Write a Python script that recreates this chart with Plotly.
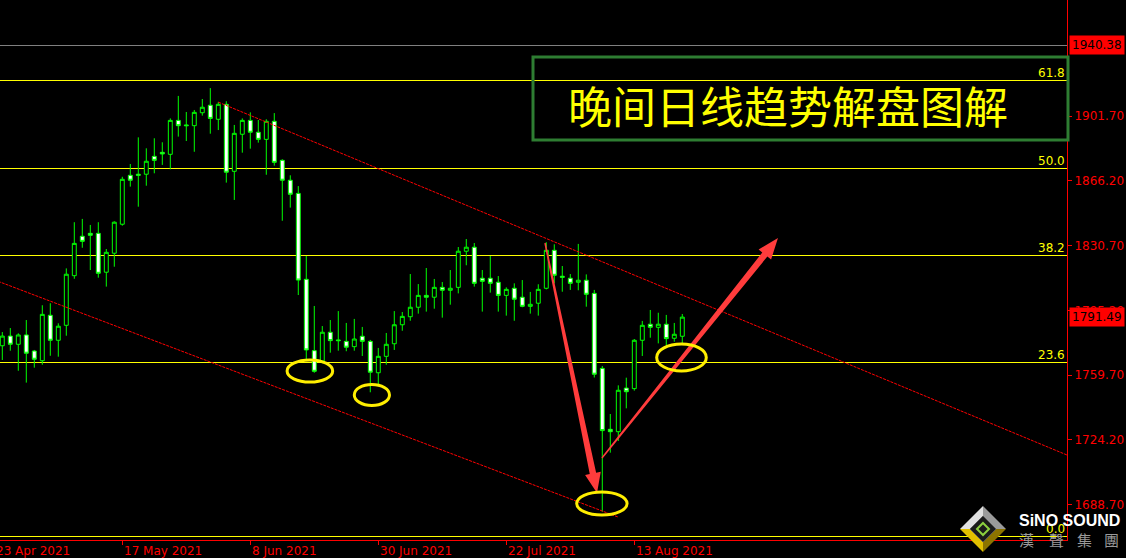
import math
import plotly.graph_objects as go

# ---------------- data (XAUUSD daily, 26 Apr 2021 .. 23 Aug 2021) ----------------
opens = [1775.8, 1781.1, 1776.6, 1781.7, 1772.9, 1767.6, 1792.5, 1778.8, 1787.0, 1814.2,
         1835.8, 1837.4, 1837.4, 1816.1, 1826.5, 1842.4, 1869.2, 1869.8, 1869.8, 1879.6,
         1881.8, 1880.7, 1899.3, 1896.8, 1896.4, 1903.5, 1907.6, 1899.9, 1908.1, 1871.4,
         1891.7, 1899.3, 1892.8, 1888.9, 1898.8, 1877.4, 1866.5, 1859.3, 1812.2, 1773.1,
         1767.4, 1783.2, 1779.0, 1778.2, 1775.3, 1781.0, 1778.2, 1761.0, 1770.0, 1776.9,
         1787.3, 1791.7, 1796.9, 1803.4, 1802.4, 1807.8, 1806.2, 1807.8, 1827.6, 1829.8,
         1812.8, 1812.8, 1810.6, 1803.4, 1807.3, 1802.4, 1797.4, 1799.1, 1807.3, 1828.1,
         1813.9, 1812.8, 1810.6, 1811.7, 1804.5, 1763.4, 1730.0, 1728.7, 1752.6, 1752.3,
         1778.8, 1787.6, 1785.9, 1787.6, 1779.9, 1781.0]
highs = [1783.3, 1785.5, 1782.6, 1789.9, 1773.5, 1798.0, 1799.1, 1788.1, 1818.2, 1843.5,
         1845.3, 1842.0, 1843.5, 1828.8, 1844.0, 1868.4, 1875.4, 1890.0, 1884.0, 1889.5,
         1887.3, 1900.4, 1912.7, 1903.9, 1905.0, 1911.0, 1917.0, 1909.4, 1909.8, 1896.8,
         1900.4, 1903.7, 1899.5, 1899.9, 1903.3, 1878.0, 1869.2, 1863.3, 1825.0, 1797.6,
         1786.6, 1789.9, 1794.8, 1788.3, 1790.5, 1786.1, 1779.0, 1774.6, 1782.8, 1794.8,
         1794.3, 1815.1, 1809.6, 1818.4, 1812.4, 1810.7, 1817.3, 1829.9, 1834.3, 1832.1,
         1817.3, 1825.0, 1814.0, 1807.8, 1810.0, 1811.8, 1805.3, 1809.5, 1832.5, 1831.4,
         1819.5, 1815.1, 1831.6, 1814.9, 1806.4, 1764.7, 1738.4, 1754.1, 1758.3, 1779.5,
         1789.4, 1795.4, 1793.9, 1792.7, 1788.3, 1793.2]
lows = [1768.0, 1773.1, 1762.1, 1755.6, 1763.8, 1765.4, 1770.3, 1769.8, 1781.3, 1812.5,
        1829.5, 1817.3, 1813.1, 1808.2, 1819.1, 1841.6, 1863.0, 1852.0, 1863.5, 1870.3,
        1874.9, 1872.5, 1890.4, 1888.0, 1882.1, 1901.9, 1892.0, 1894.0, 1865.2, 1855.7,
        1881.6, 1883.8, 1887.1, 1869.5, 1874.5, 1844.3, 1851.5, 1803.6, 1767.4, 1761.0,
        1766.2, 1772.0, 1773.1, 1772.8, 1773.1, 1770.2, 1750.3, 1753.4, 1765.4, 1773.5,
        1784.0, 1789.5, 1793.4, 1794.5, 1796.1, 1791.2, 1798.3, 1804.5, 1819.9, 1808.2,
        1794.5, 1804.9, 1794.5, 1792.3, 1789.5, 1796.9, 1793.4, 1792.3, 1806.7, 1810.0,
        1805.4, 1806.4, 1806.2, 1797.2, 1758.4, 1684.9, 1717.2, 1723.6, 1741.5, 1751.2,
        1770.2, 1780.2, 1777.1, 1775.0, 1778.0, 1777.1]
closes = [1781.1, 1776.6, 1781.7, 1771.7, 1768.4, 1793.0, 1778.8, 1786.5, 1815.0, 1831.9,
          1833.0, 1836.3, 1815.5, 1827.0, 1843.5, 1867.0, 1866.5, 1869.2, 1876.9, 1877.4,
          1880.9, 1899.3, 1896.4, 1896.4, 1903.7, 1906.5, 1900.4, 1908.1, 1870.9, 1892.2,
          1899.3, 1892.8, 1888.9, 1898.8, 1876.3, 1866.5, 1858.8, 1811.8, 1773.5, 1761.8,
          1783.2, 1778.6, 1778.6, 1775.0, 1779.5, 1778.2, 1761.3, 1770.0, 1776.6, 1787.3,
          1791.9, 1796.9, 1803.4, 1802.4, 1807.8, 1806.2, 1807.3, 1827.6, 1829.8, 1810.0,
          1811.1, 1810.0, 1803.4, 1806.7, 1801.3, 1797.4, 1798.5, 1806.7, 1828.1, 1814.4,
          1813.3, 1810.0, 1811.7, 1804.0, 1760.2, 1729.3, 1728.7, 1751.4, 1750.6, 1778.8,
          1787.0, 1785.9, 1787.6, 1779.7, 1782.1, 1791.49]
bars = list(range(len(closes)))

date_tick_bars = [-1, 15, 31, 47, 63, 79]
date_tick_labels = ["23 Apr 2021", "17 May 2021", "8 Jun 2021", "30 Jun 2021",
                    "22 Jul 2021", "13 Aug 2021"]

price_ticks = [1688.70, 1724.20, 1759.70, 1795.20, 1830.70, 1866.20, 1901.70]
price_tick_labels = ["1688.70", "1724.20", "1759.70", "1795.20", "1830.70", "1866.20", "1901.70"]

fib_prices = [1671.0, 1766.4, 1825.5, 1873.2, 1921.4]
fib_labels = ["0.0", "23.6", "38.2", "50.0", "61.8"]

top_line_price = 1940.38
last_price = 1791.49

# drawing objects in (bar, price) coordinates
upper_channel = [(27.0, 1909.3), (133.1, 1715.9)]
lower_channel = [(-1.0, 1811.9), (77.0, 1681.9)]
down_arrow = [(67.84, 1832.1), (74.34, 1695.1)]
up_arrow = [(74.96, 1714.3), (96.96, 1834.8)]
ellipses = [(35.6, 41.3, 1755.9, 1768.0),
            (44.0, 48.4, 1743.1, 1754.6),
            (71.8, 78.1, 1683.0, 1695.7),
            (81.8, 88.0, 1762.0, 1776.8)]
title_text = "晚间日线趋势解盘图解"

# ---------------- geometry ----------------
W, H = 1126, 558
M_L, M_R, M_T, M_B = 0, 59, 0, 18
PLOT_W, PLOT_H = W - M_L - M_R, H - M_T - M_B
X_RANGE = [-0.2875, 133.09]
Y_RANGE = [1669.35, 1965.27]
SX = PLOT_W / (X_RANGE[1] - X_RANGE[0])
SY = PLOT_H / (Y_RANGE[1] - Y_RANGE[0])


def to_px(x, y):
    return (x - X_RANGE[0]) * SX, (Y_RANGE[1] - y) * SY


def from_px(px, py):
    return X_RANGE[0] + px / SX, Y_RANGE[1] - py / SY


def crisp_y(price):
    """Snap a horizontal 1px line to a pixel centre so it renders sharply."""
    _, py = to_px(0, price)
    return from_px(0, math.floor(py) + 0.5)[1]


def pxp(px):  # pixel -> paper x
    return px / PLOT_W


def pyp(py):  # pixel -> paper y
    return 1 - py / PLOT_H


def tapered_arrow(p0, p1, w0, w1, head_len, head_w):
    (ax, ay), (bx, by) = to_px(*p0), to_px(*p1)
    L = ((bx - ax) ** 2 + (by - ay) ** 2) ** 0.5
    dx, dy = (bx - ax) / L, (by - ay) / L
    nx, ny = -dy, dx
    cx, cy = bx - dx * head_len, by - dy * head_len
    pts = [(ax + nx * w0 / 2, ay + ny * w0 / 2),
           (cx + nx * w1 / 2, cy + ny * w1 / 2),
           (cx + nx * head_w / 2, cy + ny * head_w / 2),
           (bx, by),
           (cx - nx * head_w / 2, cy - ny * head_w / 2),
           (cx - nx * w1 / 2, cy - ny * w1 / 2),
           (ax - nx * w0 / 2, ay - ny * w0 / 2)]
    d = [from_px(px, py) for px, py in pts]
    return "M " + " L ".join(f"{x:.4f},{y:.4f}" for x, y in d) + " Z"


# ---------------- figure ----------------
fig = go.Figure()
fig.add_trace(go.Candlestick(
    x=bars, open=opens, high=highs, low=lows, close=closes,
    increasing=dict(line=dict(color="#00ff00", width=1), fillcolor="#000000"),
    decreasing=dict(line=dict(color="#00ff00", width=1), fillcolor="#ffffff"),
    whiskerwidth=0, showlegend=False, hoverinfo="skip"))

shapes = []
# grey top line
yy = crisp_y(top_line_price)
shapes.append(dict(type="line", xref="paper", x0=0, x1=1, yref="y", y0=yy, y1=yy,
                   line=dict(color="#808080", width=1), layer="below"))
# fib lines
for p in fib_prices:
    yy = crisp_y(p)
    shapes.append(dict(type="line", xref="paper", x0=0, x1=1, yref="y", y0=yy, y1=yy,
                       line=dict(color="#ffff00", width=1), layer="below"))
# channel lines
for (a, b) in (upper_channel, lower_channel):
    shapes.append(dict(type="line", xref="x", yref="y", x0=a[0], y0=a[1], x1=b[0], y1=b[1],
                       line=dict(color="#ff0000", width=1, dash="3px,1px")))
# arrows
shapes.append(dict(type="path", xref="x", yref="y",
                   path=tapered_arrow(down_arrow[0], down_arrow[1], 1.5, 6.5, 20, 16),
                   fillcolor="#ff3c3c", line=dict(width=0)))
shapes.append(dict(type="path", xref="x", yref="y",
                   path=tapered_arrow(up_arrow[0], up_arrow[1], 1.5, 6.5, 21, 16),
                   fillcolor="#ff3c3c", line=dict(width=0)))
# ellipses
for (x0, x1, y0, y1) in ellipses:
    shapes.append(dict(type="circle", xref="x", yref="y", x0=x0, x1=x1, y0=y0, y1=y1,
                       line=dict(color="#ffee00", width=3)))
# title box
shapes.append(dict(type="rect", xref="paper", yref="paper",
                   x0=pxp(533), x1=pxp(1068), y0=pyp(140), y1=pyp(57),
                   line=dict(color="#2e7d32", width=3)))

# logo diamond
cx, cy, r = 983, 529, 23


def poly(points):
    return "M " + " L ".join(f"{pxp(a):.5f},{pyp(b):.5f}" for a, b in points) + " Z"


top, right, bottom, left, ctr = (cx, cy - r), (cx + r, cy), (cx, cy + r), (cx - r, cy), (cx, cy)
for pts, col in (([left, top, ctr], "#e0e0e0"), ([top, right, ctr], "#9a9a9a"),
                 ([left, bottom, ctr], "#e2c000"), ([right, bottom, ctr], "#8c7400")):
    shapes.append(dict(type="path", xref="paper", yref="paper", path=poly(pts),
                       fillcolor=col, line=dict(width=0)))
ri = 13
shapes.append(dict(type="path", xref="paper", yref="paper",
                   path=poly([(cx, cy - ri), (cx + ri, cy), (cx, cy + ri), (cx - ri, cy)]),
                   fillcolor="#1a1a1a", line=dict(color="#555555", width=1)))
rg = 6
shapes.append(dict(type="path", xref="paper", yref="paper",
                   path=poly([(cx, cy - rg), (cx + rg, cy), (cx, cy + rg), (cx - rg, cy)]),
                   fillcolor="rgba(0,0,0,0)", line=dict(color="#8ccf3f", width=2)))

annotations = []
AX_FONT = "DejaVu Sans"
# date labels (left-aligned at tick)
for b, t in zip(date_tick_bars, date_tick_labels):
    px, _ = to_px(b, Y_RANGE[0])
    annotations.append(dict(text=t, xref="paper", x=pxp(px) + 0.0005, xanchor="left",
                            yref="paper", y=0, yanchor="top", yshift=-3, showarrow=False,
                            font=dict(family=AX_FONT, size=12, color="#ff0000"), borderpad=0))
# fib labels
for p, t in zip(fib_prices, fib_labels):
    annotations.append(dict(text=t, xref="paper", x=pxp(1066), xanchor="right",
                            yref="y", y=crisp_y(p), yanchor="bottom", showarrow=False,
                            font=dict(family=AX_FONT, size=12, color="#ffff00"), borderpad=0))
# price boxes
for p in (top_line_price, last_price):
    annotations.append(dict(text=f"{p:.2f}", xref="paper", x=pxp(1069), xanchor="left",
                            yref="y", y=p, yanchor="middle", showarrow=False,
                            bgcolor="#ff0000", borderpad=2,
                            font=dict(family=AX_FONT, size=12, color="#000000")))
# title
annotations.append(dict(text=title_text, xref="paper", x=pxp(788), xanchor="center",
                        yref="paper", y=pyp(105), yanchor="middle", showarrow=False,
                        font=dict(family="Noto Sans CJK SC", size=44, color="#ffff00")))
# logo texts
annotations.append(dict(text="<b>SiNO SOUND</b>", xref="paper", x=pxp(1069), xanchor="center",
                        yref="paper", y=pyp(520), yanchor="middle", showarrow=False,
                        font=dict(family="Liberation Sans", size=16, color="#ffffff")))
for ch, px in zip("漢聲集團", (1026, 1056, 1084, 1111)):
    annotations.append(dict(text=ch, xref="paper", x=pxp(px), xanchor="center",
                            yref="paper", y=pyp(539), yanchor="middle", showarrow=False,
                            font=dict(family="Noto Sans CJK TC", size=15, color="#9a9a9a")))

fig.update_layout(
    width=W, height=H,
    margin=dict(l=M_L, r=M_R, t=M_T, b=M_B, pad=0),
    paper_bgcolor="#000000", plot_bgcolor="#000000",
    showlegend=False,
    shapes=shapes, annotations=annotations,
    xaxis=dict(range=X_RANGE, showgrid=False, zeroline=False, rangeslider=dict(visible=False),
               tickvals=date_tick_bars, showticklabels=False, ticks="outside", ticklen=4,
               tickcolor="#ff0000", showline=True, linecolor="#ff0000", linewidth=1,
               fixedrange=True),
    yaxis=dict(range=Y_RANGE, side="right", showgrid=False, zeroline=False,
               tickvals=price_ticks, ticktext=price_tick_labels, ticks="outside", ticklen=4,
               tickcolor="#ff0000", showline=True, linecolor="#ff0000", linewidth=1,
               tickfont=dict(family=AX_FONT, size=12, color="#ff0000"), fixedrange=True),
)

fig.write_html("out.html", config={"displayModeBar": False},
               post_script="document.body.style.margin='0';")
